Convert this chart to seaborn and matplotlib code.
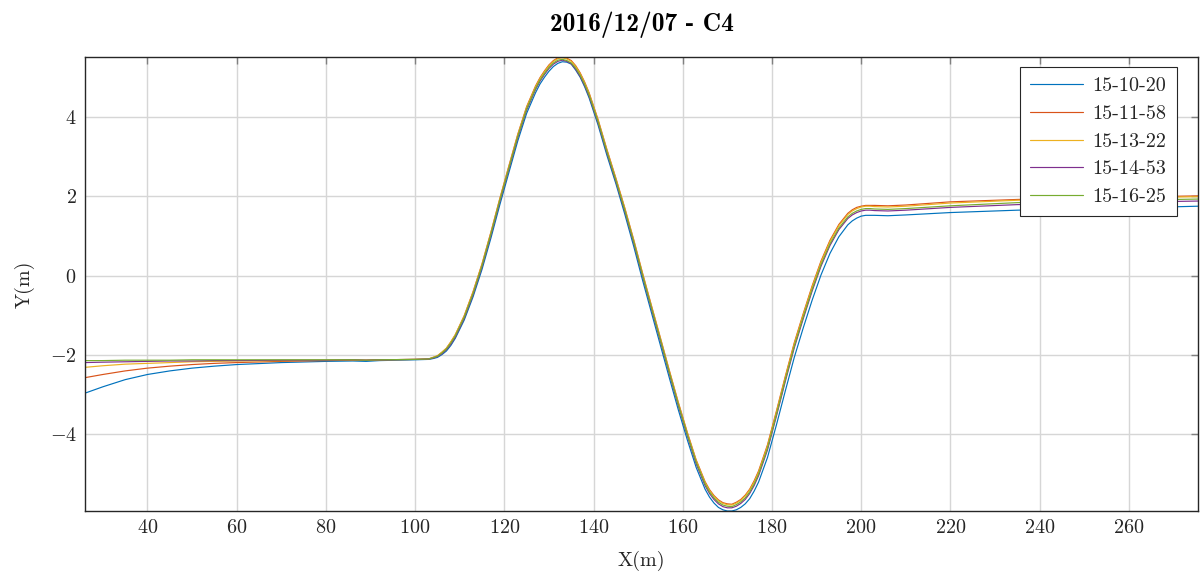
import matplotlib
matplotlib.use("Agg")
import matplotlib.pyplot as plt
import seaborn as sns
import pandas as pd

# Profile stations along the section (m)
x_m = [26, 30, 35, 40, 45, 50, 55, 60, 70, 80, 86, 89, 92, 100,
       103, 104, 105, 106, 107, 108, 109, 111, 113, 115, 117, 119, 121,
       123, 125, 127, 128, 129, 130, 131, 132, 133, 134, 135, 136, 137, 138, 139, 141,
       143, 145, 147, 149, 151, 153, 155, 157, 159, 161,
       163, 165, 166, 167, 168, 169, 170, 171, 172, 173, 174, 175, 176, 177, 179, 181,
       183, 185, 187, 189, 191, 193, 195, 197, 198, 199, 200, 201, 202,
       203, 206, 210, 220, 235, 250, 265, 275.5]

# Lateral offset Y (m) for each survey time
y_151020 = [-2.96, -2.80, -2.62, -2.49, -2.40, -2.33, -2.28, -2.24, -2.19, -2.16, -2.15, -2.16, -2.14, -2.12,
            -2.11, -2.09, -2.06, -1.99, -1.90, -1.76, -1.58, -1.12, -0.53, 0.16, 0.95, 1.79, 2.59,
            3.39, 4.09, 4.61, 4.83, 5.00, 5.15, 5.27, 5.35, 5.39, 5.38, 5.33, 5.18, 5.00, 4.76, 4.48, 3.80,
            3.03, 2.32, 1.55, 0.74, -0.12, -0.94, -1.76, -2.58, -3.38, -4.13,
            -4.83, -5.38, -5.58, -5.73, -5.84, -5.90, -5.93, -5.93, -5.90, -5.84, -5.75, -5.62, -5.43, -5.20, -4.58, -3.76,
            -2.90, -2.06, -1.32, -0.62, 0.02, 0.56, 0.98, 1.28, 1.38, 1.45, 1.50, 1.52, 1.52,
            1.52, 1.51, 1.53, 1.59, 1.65, 1.69, 1.72, 1.75]
y_151158 = [-2.57, -2.49, -2.40, -2.33, -2.28, -2.24, -2.21, -2.19, -2.16, -2.14, -2.13, -2.13, -2.12, -2.11,
            -2.10, -2.06, -2.02, -1.93, -1.83, -1.67, -1.49, -1.01, -0.40, 0.30, 1.10, 1.95, 2.76,
            3.56, 4.26, 4.78, 4.99, 5.16, 5.31, 5.42, 5.49, 5.51, 5.48, 5.42, 5.29, 5.11, 4.88, 4.61, 3.94,
            3.18, 2.46, 1.71, 0.91, 0.06, -0.76, -1.57, -2.39, -3.19, -3.94,
            -4.64, -5.19, -5.39, -5.54, -5.65, -5.72, -5.75, -5.76, -5.71, -5.64, -5.53, -5.38, -5.17, -4.92, -4.26, -3.41,
            -2.53, -1.69, -0.96, -0.26, 0.37, 0.89, 1.29, 1.57, 1.66, 1.72, 1.75, 1.77, 1.77,
            1.77, 1.76, 1.78, 1.86, 1.92, 1.96, 1.99, 2.01]
y_151322 = [-2.31, -2.27, -2.23, -2.21, -2.19, -2.17, -2.16, -2.15, -2.14, -2.13, -2.12, -2.13, -2.12, -2.11,
            -2.10, -2.06, -2.02, -1.93, -1.83, -1.67, -1.49, -1.02, -0.41, 0.29, 1.09, 1.94, 2.74,
            3.54, 4.24, 4.76, 4.97, 5.14, 5.29, 5.40, 5.47, 5.49, 5.46, 5.40, 5.27, 5.09, 4.86, 4.59, 3.92,
            3.16, 2.44, 1.69, 0.89, 0.04, -0.78, -1.59, -2.41, -3.21, -3.96,
            -4.66, -5.21, -5.41, -5.56, -5.67, -5.74, -5.77, -5.78, -5.73, -5.66, -5.55, -5.40, -5.20, -4.95, -4.29, -3.44,
            -2.56, -1.72, -0.99, -0.29, 0.34, 0.86, 1.26, 1.54, 1.63, 1.69, 1.73, 1.75, 1.75,
            1.74, 1.73, 1.75, 1.83, 1.90, 1.94, 1.97, 1.99]
y_151453 = [-2.19, -2.18, -2.17, -2.16, -2.15, -2.15, -2.14, -2.14, -2.13, -2.13, -2.12, -2.13, -2.12, -2.11,
            -2.10, -2.08, -2.04, -1.97, -1.87, -1.73, -1.55, -1.08, -0.48, 0.22, 1.02, 1.87, 2.67,
            3.47, 4.17, 4.69, 4.90, 5.07, 5.22, 5.33, 5.40, 5.43, 5.40, 5.34, 5.20, 5.02, 4.79, 4.52, 3.85,
            3.09, 2.37, 1.62, 0.82, -0.03, -0.85, -1.66, -2.48, -3.28, -4.03,
            -4.74, -5.29, -5.49, -5.64, -5.75, -5.82, -5.85, -5.85, -5.81, -5.74, -5.64, -5.49, -5.29, -5.04, -4.39, -3.54,
            -2.66, -1.82, -1.09, -0.39, 0.24, 0.76, 1.16, 1.44, 1.53, 1.59, 1.63, 1.65, 1.65,
            1.64, 1.63, 1.65, 1.72, 1.79, 1.83, 1.86, 1.88]
y_151625 = [-2.14, -2.14, -2.13, -2.13, -2.13, -2.12, -2.12, -2.12, -2.12, -2.12, -2.12, -2.13, -2.12, -2.11,
            -2.10, -2.07, -2.03, -1.95, -1.85, -1.70, -1.52, -1.05, -0.45, 0.25, 1.05, 1.90, 2.70,
            3.50, 4.20, 4.72, 4.93, 5.10, 5.25, 5.36, 5.43, 5.45, 5.42, 5.36, 5.23, 5.05, 4.82, 4.55, 3.88,
            3.12, 2.40, 1.65, 0.85, 0.00, -0.82, -1.63, -2.45, -3.25, -4.00,
            -4.70, -5.25, -5.45, -5.60, -5.71, -5.78, -5.81, -5.82, -5.77, -5.70, -5.60, -5.45, -5.25, -5.00, -4.35, -3.50,
            -2.62, -1.78, -1.05, -0.35, 0.28, 0.80, 1.20, 1.48, 1.57, 1.63, 1.67, 1.69, 1.69,
            1.68, 1.67, 1.69, 1.76, 1.84, 1.88, 1.91, 1.93]

series_names = ["15-10-20", "15-11-58", "15-13-22", "15-14-53", "15-16-25"]
series_values = [y_151020, y_151158, y_151322, y_151453, y_151625]
line_colors = ["#0072BD", "#D95319", "#EDB120", "#7E2F8E", "#77AC30"]

frames = [pd.DataFrame({"X": x_m, "Y": ys, "time": name})
          for name, ys in zip(series_names, series_values)]
df = pd.concat(frames, ignore_index=True)

sns.set_style("whitegrid")
plt.rcParams["font.family"] = ["cmr10", "DejaVu Serif"]
plt.rcParams["mathtext.fontset"] = "cm"
plt.rcParams["axes.formatter.use_mathtext"] = True
plt.rcParams["axes.unicode_minus"] = True

fig = plt.figure(figsize=(12.03, 5.75), dpi=100)
ax = fig.add_axes([0.0707, 0.1113, 0.9251, 0.7896])

sns.lineplot(data=df, x="X", y="Y", hue="time", palette=line_colors,
             sort=False, estimator=None, linewidth=0.85, ax=ax)

ax.set_xlim(min(x_m), max(x_m))
all_y = [v for ys in series_values for v in ys]
ax.set_ylim(min(all_y), max(all_y))
ax.set_xticks([40, 60, 80, 100, 120, 140, 160, 180, 200, 220, 240, 260])
ax.set_yticks([-4, -2, 0, 2, 4])

ax.grid(True, color="#d6d6d6", linewidth=1.0)
ax.set_axisbelow(True)
for sp in ax.spines.values():
    sp.set_visible(True)
    sp.set_color("#262626")
    sp.set_linewidth(1.0)
ax.tick_params(direction="in", length=5, width=1, color="#808080",
               top=True, right=True, labelsize=14.5, labelcolor="#262626", pad=6)

ax.set_xlabel("X(m)", fontsize=14.5, color="#262626", labelpad=9.5)
ax.set_ylabel("Y(m)", fontsize=14.5, color="#262626", labelpad=11)
ax.set_title("2016/12/07 - C4", fontsize=18.3, family=["cmb10", "DejaVu Serif"],
             fontweight="bold", color="black", pad=19)

leg = ax.legend(loc="upper right", bbox_to_anchor=(0.981, 0.978), fontsize=14.5,
                frameon=True, fancybox=False, framealpha=1, edgecolor="#262626",
                borderpad=0.5, handlelength=2.6, handletextpad=0.5,
                labelspacing=0.48, borderaxespad=0.0)
leg.get_frame().set_linewidth(0.8)
leg.set_title(None)

fig.savefig("out.png", dpi=100)
